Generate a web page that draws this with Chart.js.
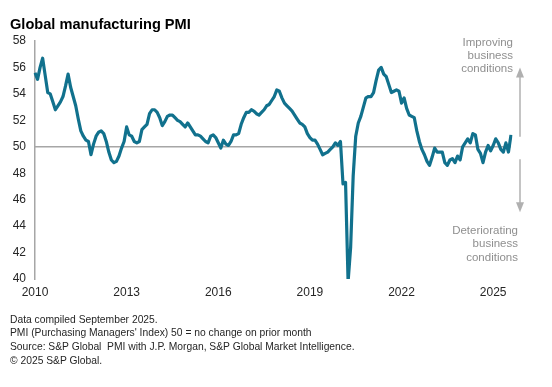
<!DOCTYPE html>
<html>
<head>
<meta charset="utf-8">
<script src="https://cdn.jsdelivr.net/npm/chart.js@4.4.1/dist/chart.umd.min.js"></script>
<style>
    body { margin: 0; background: #fff; font-family: "Liberation Sans", Arial, sans-serif; }
    #wrap { position: relative; width: 552px; height: 387px; overflow: hidden; }
    #pmiChart { position: absolute; left: 0; top: 0; }
    .txt { position: absolute; white-space: nowrap; pointer-events: none; }
    #title { left: 10px; top: 15px; font-size: 14.6px; line-height: 18px; font-weight: bold; color: #000; }
    #footer { left: 10px; top: 312.5px; font-size: 10.3px; line-height: 13.7px; color: #262626; }
    .note { font-size: 11.5px; line-height: 13.3px; color: #8f8f8f; text-align: right; }
    #improving { right: 39px; top: 35.5px; }
    #deteriorating { right: 34px; top: 224px; }
</style>
</head>
<body>
<div id="wrap">
    <canvas id="pmiChart" width="552" height="387"></canvas>
    <div id="title" class="txt">Global manufacturing PMI</div>
    <div id="improving" class="txt note">Improving<br>business<br>conditions</div>
    <div id="deteriorating" class="txt note">Deteriorating<br>business<br>conditions</div>
    <div id="footer" class="txt">Data compiled September 2025.<br>PMI (Purchasing Managers' Index) 50 = no change on prior month<br>Source: S&amp;P Global&nbsp; PMI with J.P. Morgan, S&amp;P Global Market Intelligence.<br>© 2025 S&amp;P Global.</div>
</div>
<script>
// monthly readings, Jan 2010 .. Aug 2025
const startYear = 2010;
const pmi = [
    55.6, 55.1, 56.0, 56.7, 55.4, 54.1, 54.0, 53.4, 52.8, 53.1, 53.4, 53.8, // 2010
    54.6, 55.5, 54.5, 53.8, 53.1, 52.1, 51.2, 50.8, 50.5, 50.4, 49.4, 50.2, // 2011
    50.8, 51.1, 51.2, 51.0, 50.4, 49.6, 49.0, 48.8, 48.9, 49.3, 49.9, 50.4, // 2012
    51.5, 50.9, 50.8, 50.4, 50.3, 50.4, 51.3, 51.5, 51.7, 52.5, 52.8, 52.8, // 2013
    52.6, 52.2, 51.6, 51.9, 52.3, 52.4, 52.4, 52.2, 52.0, 51.9, 51.7, 51.5, // 2014
    51.8, 51.5, 51.2, 50.9, 50.9, 50.8, 50.6, 50.4, 50.3, 50.8, 50.9, 50.7, // 2015
    50.3, 49.9, 50.5, 50.2, 50.1, 50.4, 50.9, 50.9, 51.0, 51.7, 52.2, 52.6, // 2016
    52.6, 52.8, 52.7, 52.5, 52.4, 52.6, 52.8, 53.1, 53.2, 53.5, 53.8, 54.3, // 2017
    54.2, 53.7, 53.3, 53.1, 52.9, 52.7, 52.4, 52.1, 51.8, 51.7, 51.5, 51.0, // 2018
    50.7, 50.5, 50.5, 50.2, 49.8, 49.4, 49.5, 49.6, 49.8, 50.0, 50.3, 50.1, // 2019
    50.4, 47.2, 47.3, 39.8, 42.4, 47.8, 50.8, 51.8, 52.3, 53.0, 53.7, 53.8, // 2020
    53.8, 54.1, 55.0, 55.8, 56.0, 55.5, 55.3, 54.7, 54.1, 54.2, 54.3, 54.2, // 2021
    53.3, 53.7, 52.9, 52.4, 52.3, 52.2, 51.2, 50.4, 49.8, 49.4, 48.9, 48.6, // 2022
    49.2, 49.9, 49.6, 49.6, 49.6, 48.8, 48.6, 49.0, 49.1, 48.8, 49.3, 49.0, // 2023
    50.0, 50.3, 50.6, 50.3, 51.0, 50.9, 49.8, 49.5, 48.8, 49.6, 50.1, 49.7, // 2024
    50.1, 50.6, 50.3, 49.8, 49.6, 50.3, 49.6, 50.9                          // 2025
];
const tickYears = ['2010', '2013', '2016', '2019', '2022', '2025'];
const yMin = 40;
const yMax = 58;
const yStep = 2;
const neutralLevel = 50;
// arrow ranges beside the plot, in PMI units
const upArrow = [50.75, 56.0];
const downArrow = [49.05, 45.05];

const months = [];
for (let i = 0; i < pmi.length; i++) {
    const y = startYear + Math.floor(i / 12);
    const m = String(i % 12 + 1).padStart(2, '0');
    months.push(y + '-' + m);
}

const lineColor = '#11718d';
const axisGrey = '#a6a6a6';
const fontFamily = '"Liberation Sans", Arial, sans-serif';

const neutralLine = {
    id: 'neutralLine',
    beforeDatasetsDraw(chart) {
        const { ctx, chartArea, scales } = chart;
        const y = scales.y.getPixelForValue(neutralLevel);
        ctx.save();
        ctx.strokeStyle = axisGrey;
        ctx.lineWidth = 1.5;
        ctx.beginPath();
        ctx.moveTo(chartArea.left, y);
        ctx.lineTo(chartArea.right, y);
        ctx.stroke();
        ctx.restore();
    }
};

const sideArrows = {
    id: 'sideArrows',
    afterDraw(chart) {
        const { ctx, chartArea, scales } = chart;
        const x = chartArea.right + 9;
        ctx.save();
        ctx.strokeStyle = '#b0b0b0';
        ctx.fillStyle = '#b0b0b0';
        ctx.lineWidth = 1.5;
        [upArrow, downArrow].forEach(([from, to]) => {
            const y0 = scales.y.getPixelForValue(from);
            const y1 = scales.y.getPixelForValue(to);
            const dir = y1 < y0 ? -1 : 1;
            ctx.beginPath();
            ctx.moveTo(x, y0);
            ctx.lineTo(x, y1 - dir * 9);
            ctx.stroke();
            ctx.beginPath();
            ctx.moveTo(x, y1);
            ctx.lineTo(x - 4, y1 - dir * 10);
            ctx.lineTo(x + 4, y1 - dir * 10);
            ctx.closePath();
            ctx.fill();
        });
        ctx.restore();
    }
};

const chart = new Chart(document.getElementById('pmiChart'), {
    type: 'line',
    data: {
        labels: months,
        datasets: [{
            label: 'Global manufacturing PMI',
            data: pmi,
            borderColor: lineColor,
            backgroundColor: lineColor,
            borderWidth: 3.2,
            pointRadius: 0,
            tension: 0,
            borderJoinStyle: 'round'
        }]
    },
    options: {
        responsive: false,
        animation: false,
        devicePixelRatio: 1,
        layout: { padding: { top: 41, left: 0, right: 41, bottom: 83 } },
        plugins: {
            legend: { display: false },
            tooltip: { enabled: false }
        },
        scales: {
            x: {
                type: 'category',
                offset: false,
                grid: { display: false, drawTicks: false },
                border: { display: false },
                ticks: {
                    autoSkip: false,
                    maxRotation: 0,
                    padding: 6,
                    color: '#262626',
                    font: { family: fontFamily, size: 12 },
                    callback: function (value) {
                        const parts = this.getLabelForValue(value).split('-');
                        return parts[1] === '01' && tickYears.includes(parts[0]) ? parts[0] : '';
                    }
                },
                afterFit: (scale) => { scale.height = 25; }
            },
            y: {
                min: yMin,
                max: yMax,
                grid: { display: false, drawTicks: false },
                border: { display: true, color: axisGrey, width: 1.5 },
                ticks: {
                    stepSize: yStep,
                    padding: 9,
                    color: '#262626',
                    font: { family: fontFamily, size: 12 }
                },
                afterFit: (scale) => { scale.width = 35; }
            }
        }
    },
    plugins: [neutralLine, sideArrows]
});
</script>
</body>
</html>
